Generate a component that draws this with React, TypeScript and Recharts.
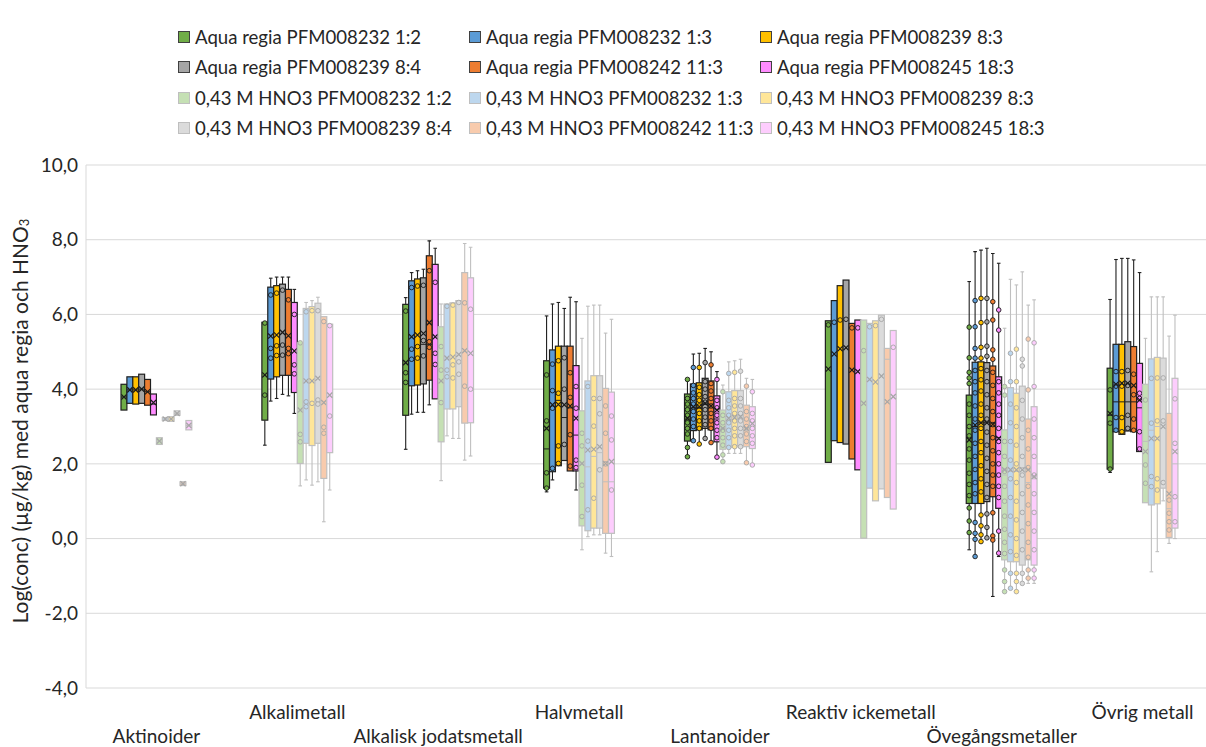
import React from 'react';
import { ComposedChart, Bar, XAxis, YAxis, CartesianGrid } from 'recharts';

type Box = [number, number, number, number, number, number]; // min, q1, median, q3, max, mean

const categories = [
  'Aktinoider',
  'Alkalimetall',
  'Alkalisk jodatsmetall',
  'Halvmetall',
  'Lantanoider',
  'Reaktiv ickemetall',
  'Övegångsmetaller',
  'Övrig metall',
];

const seriesNames = [
  'Aqua regia PFM008232 1:2',
  'Aqua regia PFM008232 1:3',
  'Aqua regia PFM008239 8:3',
  'Aqua regia PFM008239 8:4',
  'Aqua regia PFM008242 11:3',
  'Aqua regia PFM008245 18:3',
  '0,43 M HNO3 PFM008232 1:2',
  '0,43 M HNO3 PFM008232 1:3',
  '0,43 M HNO3 PFM008239 8:3',
  '0,43 M HNO3 PFM008239 8:4',
  '0,43 M HNO3 PFM008242 11:3',
  '0,43 M HNO3 PFM008245 18:3',
];

const seriesFills = [
  '#70AD47', '#5B9BD5', '#FFC000', '#A5A5A5', '#ED7D31', '#FF8CFF',
  '#C5E0B4', '#BDD7EE', '#FFE699', '#DBDBDB', '#F8CBAD', '#FDCDFD',
];

const yTicks = [-4, -2, 0, 2, 4, 6, 8, 10];
const yDomain: [number, number] = [-4, 10];

const ar_1_2: Box[] = [
  [3.44, 3.44, 3.79, 4.13, 4.13, 3.79],
  [2.5, 3.17, 3.84, 5.79, 5.79, 4.38],
  [2.39, 3.3, 4.44, 6.27, 6.45, 4.71],
  [1.25, 1.35, 2.4, 4.76, 5.96, 2.95],
  [2.19, 2.61, 3.2, 3.87, 4.26, 3.22],
  [2.04, 2.04, 5.72, 5.83, 5.83, 4.54],
  [-0.3, 0.94, 2.7, 3.84, 6.88, 2.64],
  [1.77, 1.86, 3.3, 4.56, 6.4, 3.35],
];
const ar_1_2_pts: number[][] = [
  [],
  [5.77, 3.84],
  [6.09, 4.44, 4.18],
  [4.38, 3.15, 1.76, 1.35],
  [4.26, 3.75, 3.6, 3.45, 3.3, 3.1, 2.95, 2.8, 2.44, 2.19],
  [5.72],
  [5.66, 4.84, 4.45, 4.3, 4.15, 3.6, 3.3, 3.0, 2.75, 2.4, 2.1, 1.75, 1.45, 1.15, 0.82, 0.47, 0.16],
  [3.98, 3.09, 1.86],
];

const ar_1_3: Box[] = [
  [3.62, 3.62, 3.98, 4.33, 4.33, 3.98],
  [3.68, 4.27, 5.09, 6.73, 6.97, 5.42],
  [3.33, 4.09, 5.07, 6.9, 7.12, 5.4],
  [1.57, 1.79, 3.5, 5.05, 6.28, 3.58],
  [2.62, 2.89, 3.5, 4.14, 4.94, 3.53],
  [2.62, 2.62, 5.79, 6.37, 6.37, 4.94],
  [-0.48, 0.94, 3.0, 4.72, 7.68, 3.04],
  [2.86, 2.86, 3.66, 5.2, 7.47, 4.13],
];
const ar_1_3_pts: number[][] = [
  [],
  [6.52, 5.09, 4.83],
  [6.72, 5.07, 4.8],
  [4.67, 3.96, 3.49, 1.88],
  [4.58, 4.1, 3.9, 3.75, 3.6, 3.4, 3.2, 3.0, 2.62],
  [5.79],
  [6.37, 5.67, 5.09, 4.83, 4.5, 4.2, 3.9, 3.55, 3.2, 2.9, 2.55, 2.2, 1.85, 1.5, 1.2, 0.43, 0.14, -0.02, -0.48],
  [4.47, 4.08, 3.24, 2.9],
];

const ar_8_3: Box[] = [
  [3.6, 3.6, 3.98, 4.33, 4.33, 3.98],
  [3.75, 4.33, 5.16, 6.77, 7.0, 5.45],
  [3.38, 4.11, 5.14, 6.95, 7.17, 5.45],
  [1.95, 1.95, 3.7, 5.15, 6.32, 3.59],
  [2.53, 2.91, 3.5, 4.17, 4.96, 3.53],
  [2.57, 2.57, 5.85, 6.77, 6.77, 5.08],
  [-0.08, 0.94, 3.1, 4.73, 7.72, 3.1],
  [2.79, 2.79, 3.66, 5.2, 7.5, 4.16],
];
const ar_8_3_pts: number[][] = [
  [],
  [6.57, 5.16, 4.9],
  [6.76, 5.14, 4.83],
  [4.76, 3.89, 2.48, 2.01],
  [4.58, 4.05, 3.85, 3.7, 3.55, 3.35, 3.15, 2.95, 2.53],
  [5.85],
  [6.43, 5.78, 5.12, 4.83, 4.55, 4.25, 3.95, 3.6, 3.3, 2.95, 2.6, 2.3, 1.95, 1.6, 1.25, 0.63, 0.34, 0.1, -0.08],
  [4.47, 4.08, 3.24, 2.86],
];

const ar_8_4: Box[] = [
  [3.62, 3.62, 4.0, 4.4, 4.4, 4.0],
  [3.86, 4.37, 5.18, 6.81, 7.0, 5.52],
  [3.38, 4.14, 5.2, 6.98, 7.21, 5.49],
  [2.09, 2.09, 3.24, 5.15, 6.16, 3.58],
  [2.68, 2.95, 3.6, 4.29, 5.09, 3.62],
  [2.53, 2.53, 5.87, 6.92, 6.92, 5.11],
  [0.02, 0.99, 3.1, 4.71, 7.77, 3.1],
  [2.88, 2.88, 3.66, 5.27, 7.5, 4.16],
];
const ar_8_4_pts: number[][] = [
  [],
  [6.65, 5.18, 4.91],
  [6.78, 5.3, 4.89],
  [4.84, 4.0, 2.52],
  [4.71, 4.2, 4.0, 3.8, 3.65, 3.45, 3.25, 3.05, 2.68],
  [5.87],
  [6.43, 5.8, 5.15, 4.88, 4.5, 4.2, 3.85, 3.5, 3.2, 2.85, 2.5, 2.15, 1.8, 1.45, 1.1, 0.66, 0.3, 0.02],
  [4.5, 4.1, 3.3, 2.95],
];

const ar_11_3: Box[] = [
  [3.57, 3.57, 3.93, 4.26, 4.26, 3.93],
  [3.82, 4.37, 5.09, 6.67, 7.0, 5.43],
  [3.58, 4.24, 5.2, 7.57, 7.97, 5.78],
  [1.81, 1.81, 3.5, 5.15, 6.46, 3.55],
  [2.57, 2.91, 3.55, 4.22, 5.0, 3.55],
  [2.13, 2.13, 5.64, 5.76, 5.76, 4.51],
  [-1.55, 1.12, 3.0, 4.62, 7.63, 3.06],
  [2.86, 2.86, 3.66, 5.14, 7.46, 4.1],
];
const ar_11_3_pts: number[][] = [
  [],
  [6.39, 5.09, 4.95],
  [7.17, 5.27, 5.12],
  [4.44, 3.78, 2.78, 1.94],
  [4.65, 4.15, 3.95, 3.75, 3.55, 3.35, 3.15, 2.95, 2.57],
  [5.64],
  [6.34, 5.85, 5.05, 4.8, 4.45, 4.1, 3.75, 3.4, 3.05, 2.7, 2.35, 2.0, 1.7, 1.4, 0.69, 0.07, -0.04],
  [4.4, 3.85, 3.2, 2.9],
];

const ar_18_3: Box[] = [
  [3.31, 3.31, 3.6, 3.87, 3.87, 3.64],
  [3.35, 3.91, 4.65, 6.32, 6.67, 5.02],
  [3.74, 3.74, 4.96, 7.34, 7.77, 5.4],
  [1.3, 1.81, 2.77, 4.63, 6.34, 3.22],
  [2.18, 2.59, 3.2, 3.82, 4.47, 3.44],
  [1.84, 1.84, 5.64, 5.85, 5.85, 4.47],
  [-0.48, 0.81, 2.7, 4.33, 7.37, 2.68],
  [2.33, 2.33, 3.5, 4.69, 7.12, 3.71],
];
const ar_18_3_pts: number[][] = [
  [],
  [6.0, 4.65, 4.41],
  [6.86, 4.96, 4.66],
  [4.07, 3.49, 2.1, 1.9],
  [4.26, 3.7, 3.5, 3.3, 3.1, 2.9, 2.7, 2.18],
  [5.64],
  [6.12, 5.58, 4.2, 3.9, 3.6, 3.3, 2.95, 2.6, 2.3, 2.0, 1.7, 1.4, 1.1, 0.2, -0.39],
  [3.89, 3.75, 2.86, 2.4],
];

const hno_1_2: Box[] = [
  [2.52, 2.52, 2.61, 2.7, 2.7, 2.61],
  [1.41, 2.01, 2.79, 5.24, 5.24, 3.44],
  [1.55, 2.59, 4.51, 5.67, 6.28, 4.22],
  [-0.3, 0.34, 2.0, 3.42, 5.36, 2.01],
  [2.06, 2.39, 2.9, 3.44, 4.11, 2.95],
  [0.01, 0.01, 5.03, 5.85, 5.85, 3.62],
  [-1.42, -0.57, 1.7, 2.91, 5.63, 1.84],
  [0.96, 0.96, 2.6, 4.13, 5.36, 2.33],
];
const hno_1_2_pts: number[][] = [
  [],
  [5.24, 2.79, 2.59],
  [5.14, 4.51, 3.64],
  [2.82, 2.48, 1.43, 0.59],
  [3.93, 3.3, 3.1, 2.9, 2.7, 2.5, 2.24, 2.06],
  [5.03],
  [4.07, 3.84, 2.6, 2.2, 1.8, 1.4, 1.0, 0.6, 0.25, -0.1, -0.4, -0.84, -1.15, -1.42],
  [3.71, 1.97, 1.48],
];

const hno_1_3: Box[] = [
  [3.16, 3.16, 3.2, 3.24, 3.24, 3.2],
  [1.57, 2.55, 3.66, 6.16, 6.32, 4.22],
  [2.75, 3.47, 4.51, 6.28, 6.28, 4.83],
  [0.05, 0.21, 1.92, 4.22, 6.22, 2.37],
  [2.28, 2.44, 3.2, 3.93, 4.73, 3.22],
  [1.35, 1.35, 5.67, 5.76, 5.76, 4.26],
  [-1.33, -0.62, 1.8, 4.04, 6.94, 1.84],
  [-0.89, 0.9, 2.9, 4.81, 6.47, 2.68],
];
const hno_1_3_pts: number[][] = [
  [],
  [6.07, 3.66, 3.53],
  [6.22, 4.51, 4.33],
  [4.07, 2.61, 0.77],
  [4.42, 3.7, 3.5, 3.3, 3.1, 2.9, 2.7, 2.44],
  [5.67],
  [4.96, 4.2, 3.6, 3.1, 2.6, 2.1, 1.6, 1.1, 0.6, 0.1, -0.35, -0.93, -1.33],
  [4.29, 3.09, 1.66, 1.39],
];

const hno_8_3: Box[] = [
  [3.14, 3.14, 3.2, 3.26, 3.26, 3.2],
  [1.43, 2.49, 3.62, 6.21, 6.37, 4.22],
  [2.68, 3.47, 4.65, 6.31, 6.31, 4.86],
  [0.1, 0.28, 2.2, 4.36, 6.25, 2.39],
  [2.28, 2.46, 3.25, 3.96, 4.76, 3.24],
  [1.01, 1.01, 5.7, 5.83, 5.83, 4.19],
  [-1.42, -0.62, 1.8, 3.89, 6.79, 1.84],
  [-0.35, 0.93, 3.0, 4.85, 6.47, 2.68],
];
const hno_8_3_pts: number[][] = [
  [],
  [6.1, 3.62],
  [6.25, 4.65, 4.3],
  [3.75, 3.01, 1.08],
  [4.45, 3.75, 3.55, 3.35, 3.15, 2.95, 2.75, 2.46],
  [5.7],
  [5.07, 4.2, 3.5, 3.0, 2.5, 2.0, 1.5, 1.0, 0.5, 0.0, -0.45, -0.93, -1.15, -1.42],
  [4.3, 3.15, 1.6, 1.3],
];

const hno_8_4: Box[] = [
  [3.3, 3.3, 3.35, 3.42, 3.42, 3.35],
  [1.52, 2.55, 3.71, 6.3, 6.46, 4.29],
  [2.68, 3.53, 4.73, 6.37, 6.37, 4.93],
  [0.1, 0.28, 2.3, 4.36, 6.25, 2.46],
  [2.28, 2.46, 3.25, 3.96, 4.8, 3.26],
  [1.33, 1.33, 5.87, 5.98, 5.98, 4.35],
  [-1.2, -0.71, 1.9, 4.08, 7.14, 1.84],
  [1.01, 1.35, 3.1, 4.83, 6.47, 3.0],
];
const hno_8_4_pts: number[][] = [
  [],
  [6.1, 3.71, 3.6],
  [6.32, 4.73, 4.4],
  [3.75, 3.34, 1.84],
  [4.48, 3.75, 3.55, 3.35, 3.15, 2.95, 2.75, 2.46],
  [5.87],
  [4.8, 4.62, 3.7, 3.2, 2.7, 2.2, 1.7, 1.2, 0.7, 0.2, -0.3, -0.93, -1.2],
  [4.3, 3.15, 1.5],
];

const hno_11_3: Box[] = [
  [1.42, 1.42, 1.47, 1.52, 1.52, 1.47],
  [0.45, 1.61, 2.98, 5.94, 5.94, 3.64],
  [2.1, 3.09, 4.08, 7.12, 7.9, 5.03],
  [-0.39, 0.14, 1.52, 4.02, 5.5, 2.01],
  [2.03, 2.46, 2.9, 3.57, 4.29, 2.95],
  [1.1, 1.1, 4.8, 5.09, 5.09, 3.66],
  [-1.2, -0.57, 1.5, 3.2, 6.25, 1.84],
  [-0.13, 0.03, 0.8, 3.35, 5.42, 1.2],
];
const hno_11_3_pts: number[][] = [
  [],
  [5.81, 2.98, 2.82],
  [6.31, 4.08],
  [3.55, 2.82, 2.0],
  [4.08, 3.4, 3.2, 3.0, 2.8, 2.6, 2.03],
  [],
  [5.34, 3.98, 2.9, 2.4, 1.9, 1.4, 0.9, 0.4, -0.1, -0.5, -0.84, -1.06],
  [1.03, 0.68, 0.45, 0.23],
];

const hno_18_3: Box[] = [
  [2.91, 2.91, 3.03, 3.16, 3.16, 3.03],
  [1.3, 2.3, 3.28, 5.74, 5.74, 3.84],
  [2.21, 3.1, 4.0, 6.98, 7.8, 4.96],
  [-0.48, 0.14, 1.52, 3.92, 5.87, 2.06],
  [1.97, 2.41, 3.0, 3.53, 4.26, 3.08],
  [0.79, 0.79, 5.12, 5.57, 5.57, 3.8],
  [-1.2, -0.71, 1.6, 3.53, 6.39, 1.66],
  [0.0, 0.28, 2.0, 4.29, 5.98, 2.33],
];
const hno_18_3_pts: number[][] = [
  [],
  [5.7, 3.28],
  [6.14, 4.0],
  [3.28, 2.64, 1.3],
  [3.93, 3.35, 3.15, 2.95, 2.75, 2.55, 1.97],
  [5.12],
  [5.24, 4.07, 3.2, 2.7, 2.2, 1.7, 1.2, 0.7, 0.2, -0.3, -0.84, -1.06],
  [3.74, 2.55, 1.12, 0.45],
];

const seriesStats: Box[][] = [ar_1_2, ar_1_3, ar_8_3, ar_8_4, ar_11_3, ar_18_3, hno_1_2, hno_1_3, hno_8_3, hno_8_4, hno_11_3, hno_18_3];
const seriesPoints: number[][][] = [
  ar_1_2_pts, ar_1_3_pts, ar_8_3_pts, ar_8_4_pts, ar_11_3_pts, ar_18_3_pts,
  hno_1_2_pts, hno_1_3_pts, hno_8_3_pts, hno_8_4_pts, hno_11_3_pts, hno_18_3_pts,
];

// Each series gets its own key spanning the full value axis; the box is drawn inside it.
const data = categories.map((name, idx) => {
  const row: Record<string, any> = { name, idx };
  seriesNames.forEach((_, s) => {
    row[`f${s}`] = yDomain;
  });
  return row;
});

const FONT = 'Lato, "Open Sans", sans-serif';
const TEXT = '#262626';

const makeShape = (s: number) => (props: any) => {
  const ci: number = props.payload && typeof props.payload.idx === 'number' ? props.payload.idx : props.index;
  const box = seriesStats[s][ci];
  if (!box) return <g />;
  const pts = seriesPoints[s][ci] || [];
  const top = Math.min(props.y, props.y + props.height);
  const h = Math.abs(props.height);
  const [lo, hi] = yDomain;
  const py = (v: number) => top + ((hi - v) / (hi - lo)) * h;
  const isAR = s < 6;
  const line = isAR ? '#1f1f1f' : '#BFBFBF';
  const mark = isAR ? '#1a1a1a' : '#A6A6A6';
  const fill = seriesFills[s];
  const x0 = props.x;
  const w = props.width;
  const cx = x0 + w / 2;
  const [mn, q1, md, q3, mx, mean] = box;
  const yq3 = py(q3);
  const yq1 = py(q1);
  const ym = py(mean);
  const m = 2.6;
  return (
    <g>
      {mx > q3 && <line x1={cx} x2={cx} y1={py(mx)} y2={yq3} stroke={line} strokeWidth={1.1} />}
      {mx > q3 && <line x1={cx - 1.8} x2={cx + 1.8} y1={py(mx)} y2={py(mx)} stroke={line} strokeWidth={1.1} />}
      {mn < q1 && <line x1={cx} x2={cx} y1={yq1} y2={py(mn)} stroke={line} strokeWidth={1.1} />}
      {mn < q1 && <line x1={cx - 1.8} x2={cx + 1.8} y1={py(mn)} y2={py(mn)} stroke={line} strokeWidth={1.1} />}
      <rect x={x0} y={yq3} width={w} height={Math.max(yq1 - yq3, 1.5)} fill={fill} stroke={line} strokeWidth={1.2} />
      <line x1={x0} x2={x0 + w} y1={py(md)} y2={py(md)} stroke={line} strokeWidth={1} />
      {pts.map((v, k) => (
        <circle key={k} cx={cx} cy={py(v)} r={2.3} fill={fill} stroke={mark} strokeWidth={0.9} />
      ))}
      <path
        d={`M${cx - m},${ym - m}L${cx + m},${ym + m}M${cx + m},${ym - m}L${cx - m},${ym + m}`}
        stroke={mark}
        strokeWidth={1.2}
        fill="none"
      />
    </g>
  );
};

const CategoryTick = (props: any) => {
  const { x, y, payload } = props;
  const i = categories.indexOf(payload.value);
  const dy = i % 2 === 0 ? 53 : 29;
  return (
    <text x={x} y={y + dy} textAnchor="middle" fill={TEXT} fontSize={19} fontFamily={FONT}>
      {payload.value}
    </text>
  );
};

const YTitle = () => (
  <text
    x={0}
    y={0}
    transform="translate(19,421) rotate(-90)"
    textAnchor="middle"
    dominantBaseline="central"
    fill={TEXT}
    fontSize={21}
    fontFamily={FONT}
  >
    Log(conc) (µg/kg) med aqua regia och HNO
    <tspan fontSize={13} dy={5}>3</tspan>
  </text>
);

export default function App() {
  return (
    <div
      style={{
        position: 'absolute',
        left: 0,
        top: 0,
        width: 1206,
        height: 747,
        overflow: 'hidden',
        background: '#ffffff',
        fontFamily: FONT,
      }}
    >
      {seriesNames.map((name, i) => {
        const row = Math.floor(i / 3);
        const col = i % 3;
        const isAR = i < 6;
        return (
          <div
            key={name}
            style={{
              position: 'absolute',
              left: 178 + col * 291,
              top: 37 + row * 30.3 - 13,
              height: 26,
              display: 'flex',
              alignItems: 'center',
              whiteSpace: 'nowrap',
              fontSize: 18.6,
              color: TEXT,
              fontFamily: FONT,
            }}
          >
            <span
              style={{
                display: 'inline-block',
                width: 10,
                height: 10,
                background: seriesFills[i],
                border: `1px solid ${isAR ? '#404040' : '#BFBFBF'}`,
                marginRight: 5,
              }}
            />
            {name}
          </div>
        );
      })}
      <div style={{ position: 'absolute', left: 0, top: 0 }}>
        <ComposedChart
          width={1220}
          height={747}
          data={data}
          margin={{ top: 165, right: 7, bottom: 0, left: 6 }}
          barGap={0}
        >
          <CartesianGrid vertical={false} stroke="#D9D9D9" />
          <XAxis
            dataKey="name"
            type="category"
            interval={0}
            tickLine={false}
            axisLine={false}
            height={59}
            tickSize={0}
            tick={<CategoryTick />}
          />
          <YAxis
            type="number"
            domain={yDomain}
            ticks={yTicks}
            interval={0}
            allowDataOverflow
            width={80}
            tickLine={false}
            tickSize={0}
            tickMargin={8}
            axisLine={{ stroke: '#D9D9D9' }}
            tickFormatter={(v: number) => v.toFixed(1).replace('.', ',')}
            tick={{ fill: TEXT, fontSize: 19, fontFamily: FONT }}
          />
          {seriesNames.map((name, s) => (
            <Bar
              key={name}
              name={name}
              dataKey={`f${s}`}
              barSize={5.9}
              isAnimationActive={false}
              shape={makeShape(s)}
            />
          ))}
          <YTitle />
        </ComposedChart>
      </div>
    </div>
  );
}
